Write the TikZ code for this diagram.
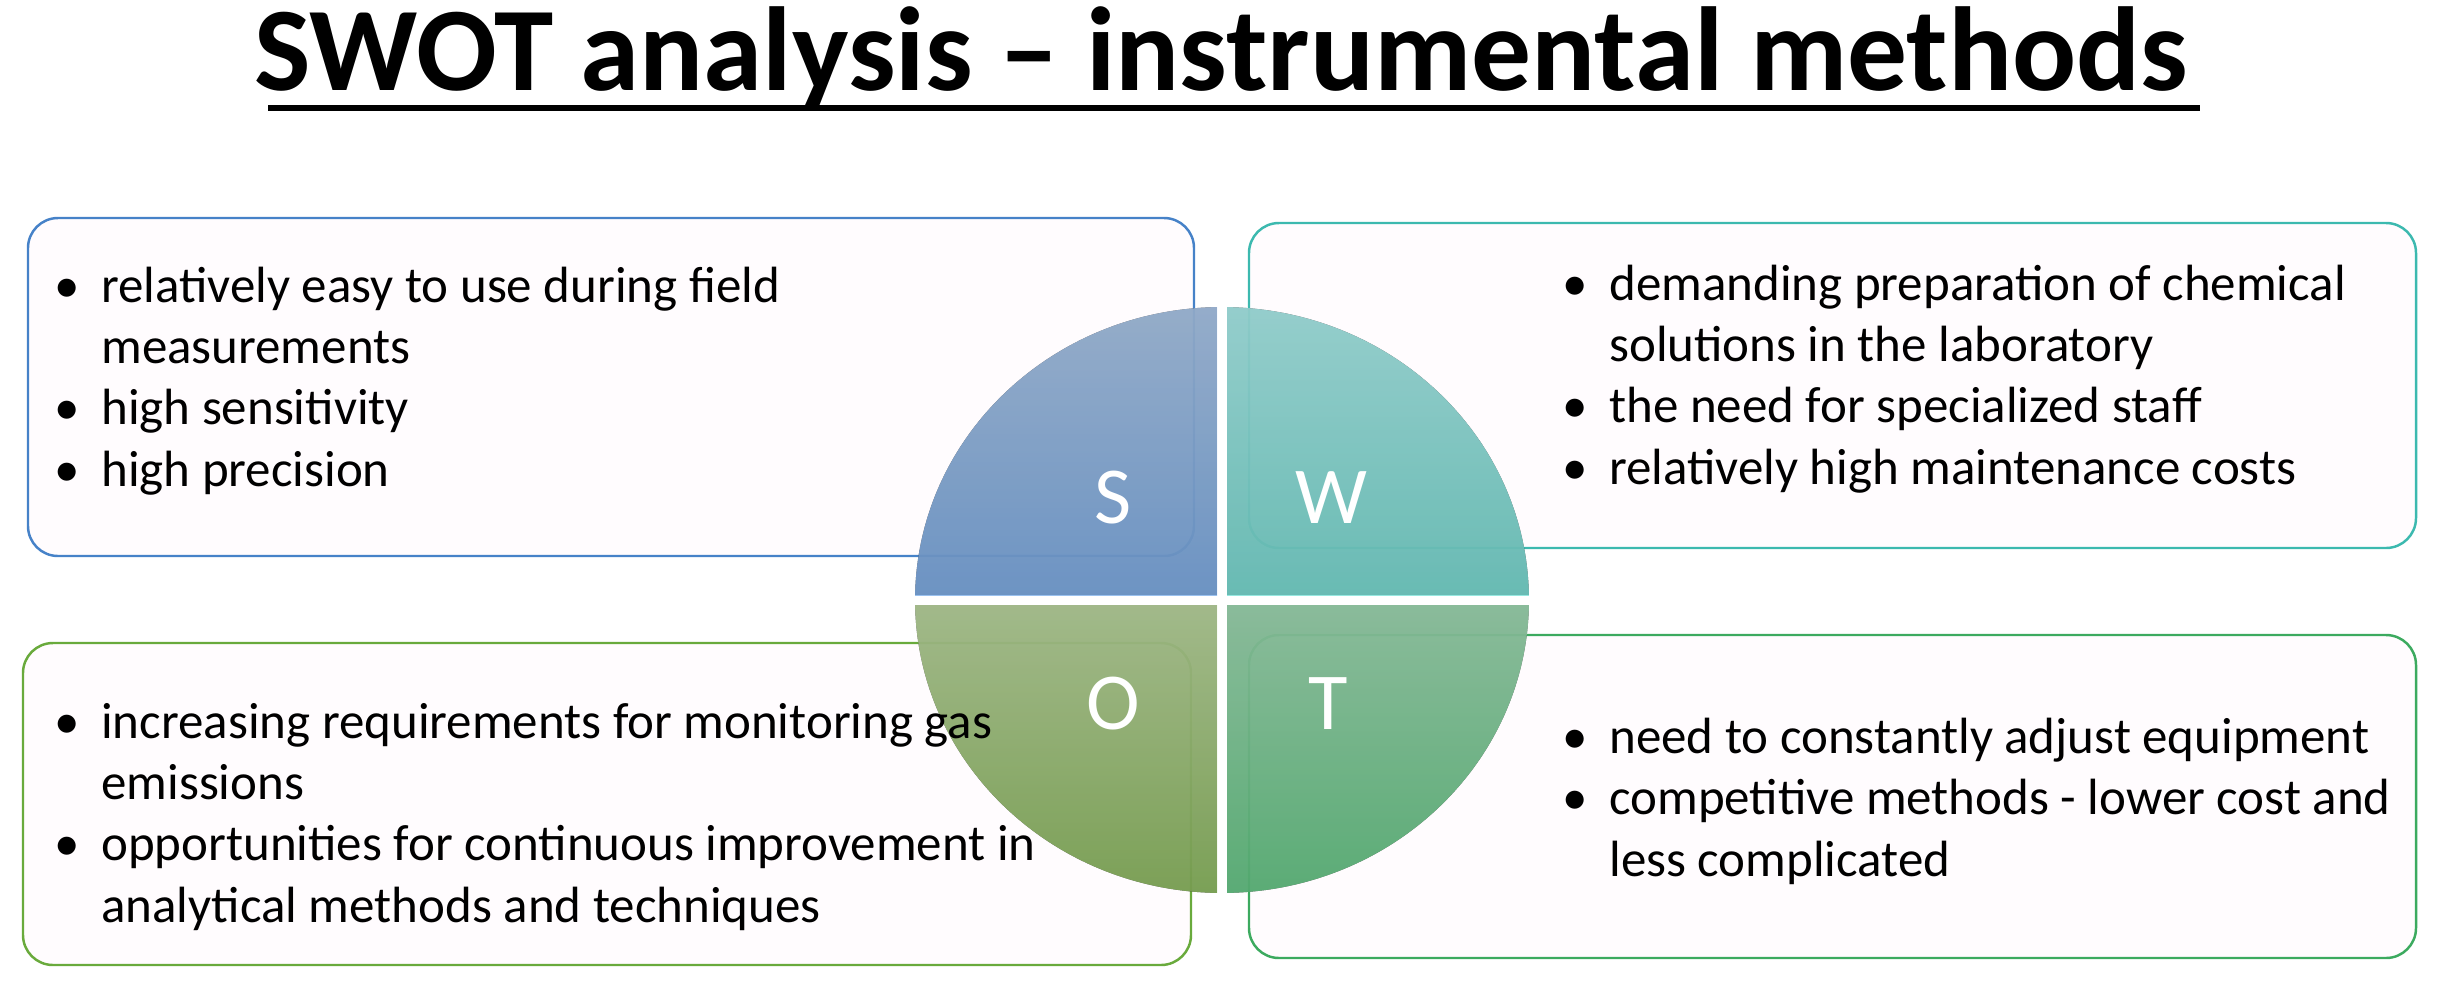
\documentclass[tikz,border=0pt]{standalone}
\usepackage{fontspec}
\setmainfont{Carlito}
\begin{document}
\begin{tikzpicture}[x=0.02cm,y=-0.02cm,
 box/.style={rounded corners=0.6cm,line width=1.4pt,fill=white!97!magenta!40!white},
 quad/.style={fill opacity=0.78},
 let/.style={text=white,font=\fontsize{46}{50}\selectfont},
 txt/.style={anchor=base west,inner sep=0pt,font=\fontsize{29}{35}\selectfont}]
\useasboundingbox (0,0) rectangle (2441,988);
\definecolor{sb}{RGB}{70,130,200}\definecolor{wb}{RGB}{60,185,175}
\definecolor{ob}{RGB}{105,170,60}\definecolor{tb}{RGB}{60,170,95}
\definecolor{sf}{RGB}{125,175,235}\definecolor{wf}{RGB}{120,225,215}
\definecolor{of}{RGB}{150,200,100}\definecolor{tf}{RGB}{100,205,135}
\node[font=\bfseries\fontsize{68}{72}\selectfont] (title) at (1221,58) {SWOT analysis -- instrumental methods};
\draw[line width=3pt] (268,108) -- (2200,108);
\draw[box,draw=sb] (28,218) rectangle (1194,556);
\draw[box,draw=wb] (1249,223) rectangle (2416,548);
\draw[box,draw=ob] (23,643) rectangle (1191,965);
\draw[box,draw=tb] (1249,635) rectangle (2416,958);
\coordinate (C) at (1222,600);
\begin{scope}
\clip (C) ellipse[x radius=6.14cm,y radius=5.86cm];
\fill[quad,top color=sf!60!white,bottom color=sf] (900,300) rectangle (1217,595);
\fill[quad,top color=wf!50!cyan!40!white,bottom color=wf] (1227,300) rectangle (1540,595);
\fill[quad,top color=of!60!white,bottom color=of!95!black] (900,605) rectangle (1217,900);
\fill[quad,top color=tf!60!white,bottom color=tf] (1227,605) rectangle (1540,900);
\end{scope}
\node[let] (S) at (1113,498) {S};
\node[let] (W) at (1331,498) {W};
\node[let] (O) at (1113,704) {O};
\node[let] (T) at (1328,704) {T};
\newcommand{\bl}{\makebox[0.94cm][l]{\textbullet}}
\node[txt] (st) at (54,302) {\begin{tabular}[t]{@{}l@{}l@{}}
\bl&relatively easy to use during field\\ &measurements\\ \bl&high sensitivity\\ \bl&high precision\end{tabular}};
\node[txt] (wt) at (1562,300) {\begin{tabular}[t]{@{}l@{}l@{}}
\bl&demanding preparation of chemical\\ &solutions in the laboratory\\ \bl&the need for specialized staff\\ \bl&relatively high maintenance costs\end{tabular}};
\node[txt] (ot) at (54,738) {\begin{tabular}[t]{@{}l@{}l@{}}
\bl&increasing requirements for monitoring gas\\ &emissions\\ \bl&opportunities for continuous improvement in\\ &analytical methods and techniques\end{tabular}};
\node[txt] (tt) at (1562,753) {\begin{tabular}[t]{@{}l@{}l@{}}
\bl&need to constantly adjust equipment\\ \bl&competitive methods - lower cost and\\ &less complicated\end{tabular}};
\end{tikzpicture}
\end{document}
